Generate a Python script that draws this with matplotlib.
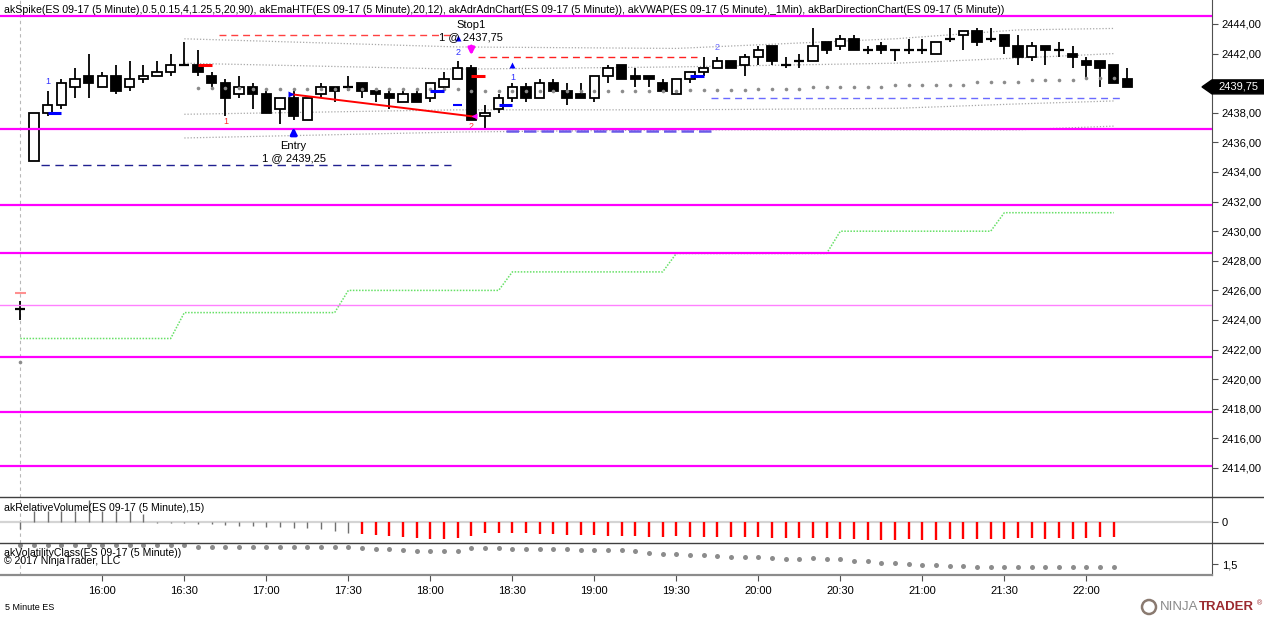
import matplotlib
matplotlib.use("Agg")
import matplotlib.pyplot as plt
import matplotlib.transforms as mtransforms
from matplotlib.patches import Polygon, Ellipse
from matplotlib.lines import Line2D
import numpy as np

plt.rcParams['font.family'] = ['Liberation Sans', 'DejaVu Sans']

# 5 minute ES bars: first one is 15:30 (session break), then 15:35 ... 22:15
opens = [2424.75,
         2434.75, 2438.0, 2438.5, 2439.75, 2440.5, 2439.75, 2440.5, 2439.75, 2440.25, 2440.5,
         2440.75, 2441.25, 2441.25, 2440.5, 2440.0, 2439.25, 2439.75, 2439.25, 2438.25, 2439.0,
         2437.5, 2439.25, 2439.75, 2439.75, 2440.0, 2439.5, 2439.25, 2438.75, 2439.25, 2439.0,
         2439.75, 2440.25, 2441.0, 2437.75, 2438.25, 2439.0, 2439.75, 2439.0, 2440.0, 2439.5,
         2439.25, 2439.0, 2440.5, 2441.25, 2440.5, 2440.5, 2440.0, 2439.25, 2440.25, 2440.75,
         2441.0, 2441.5, 2441.25, 2441.75, 2442.5, 2441.25, 2441.5, 2441.5, 2442.75, 2442.5,
         2443.0, 2442.25, 2442.5, 2442.25, 2442.25, 2442.25, 2442.0, 2443.0, 2443.25, 2443.5,
         2443.0, 2443.25, 2442.5, 2441.75, 2442.5, 2442.25, 2442.0, 2441.5, 2441.5, 2441.25,
         2440.25]
highs = [2425.25,
         2438.0, 2439.5, 2440.25, 2441.0, 2442.0, 2440.75, 2441.25, 2441.5, 2441.25, 2441.5,
         2442.0, 2442.75, 2442.25, 2440.75, 2440.25, 2440.5, 2440.0, 2439.5, 2439.0, 2439.5,
         2439.0, 2440.0, 2439.75, 2440.5, 2440.0, 2439.5, 2439.5, 2439.5, 2439.5, 2440.0,
         2440.75, 2441.5, 2441.25, 2438.5, 2439.25, 2440.0, 2440.0, 2440.25, 2440.25, 2440.0,
         2440.0, 2440.5, 2441.25, 2441.25, 2441.0, 2440.5, 2440.25, 2440.25, 2440.75, 2441.75,
         2441.75, 2441.5, 2442.0, 2442.5, 2442.5, 2441.75, 2442.0, 2443.75, 2442.75, 2443.25,
         2443.25, 2442.5, 2442.75, 2442.25, 2443.0, 2443.0, 2442.75, 2443.75, 2443.5, 2443.75,
         2443.75, 2443.25, 2443.25, 2442.75, 2442.5, 2442.75, 2442.5, 2441.75, 2441.5, 2441.25,
         2441.0]
lows = [2424.0,
        2434.75, 2437.75, 2438.25, 2439.0, 2439.0, 2439.75, 2439.25, 2439.5, 2440.0, 2440.5,
        2440.5, 2441.25, 2440.5, 2439.75, 2437.75, 2439.0, 2438.25, 2438.0, 2437.25, 2437.5,
        2437.5, 2439.0, 2438.75, 2439.5, 2439.0, 2438.75, 2438.25, 2438.75, 2438.75, 2438.75,
        2439.5, 2440.25, 2437.5, 2437.0, 2438.0, 2438.75, 2438.75, 2439.0, 2439.5, 2438.5,
        2439.0, 2438.75, 2440.0, 2440.25, 2439.75, 2439.75, 2439.5, 2439.25, 2440.0, 2440.5,
        2441.0, 2441.0, 2440.5, 2441.25, 2441.25, 2441.0, 2441.0, 2441.5, 2442.0, 2442.25,
        2442.25, 2442.0, 2442.0, 2441.5, 2442.0, 2442.0, 2442.0, 2442.75, 2442.25, 2442.5,
        2442.75, 2442.0, 2441.25, 2441.5, 2441.25, 2441.75, 2441.0, 2440.25, 2439.75, 2440.0,
        2439.75]
closes = [2424.75,
          2438.0, 2438.5, 2440.0, 2440.25, 2440.0, 2440.5, 2439.5, 2440.25, 2440.5, 2440.75,
          2441.25, 2441.25, 2440.75, 2440.0, 2439.0, 2439.75, 2439.25, 2438.0, 2439.0, 2437.75,
          2439.0, 2439.75, 2439.5, 2439.75, 2439.5, 2439.25, 2439.0, 2439.25, 2438.75, 2440.0,
          2440.25, 2441.0, 2437.5, 2438.0, 2439.0, 2439.75, 2439.0, 2440.0, 2439.5, 2439.0,
          2439.0, 2440.5, 2441.0, 2440.25, 2440.25, 2440.25, 2439.5, 2440.25, 2440.75, 2441.0,
          2441.5, 2441.0, 2441.75, 2442.25, 2441.5, 2441.25, 2441.5, 2442.5, 2442.25, 2443.0,
          2442.25, 2442.25, 2442.25, 2442.25, 2442.25, 2442.25, 2442.75, 2443.0, 2443.5, 2442.75,
          2443.0, 2442.5, 2441.75, 2442.5, 2442.25, 2442.25, 2441.75, 2441.25, 2441.0, 2440.0,
          2439.75]

# hourly EMA (akEmaHTF), bars 15:30 ... 22:10
ema_htf = [2422.75] * 12 + [2424.5] * 12 + [2426.0] * 12 + [2427.25] * 12 + \
          [2428.5] * 12 + [2430.0] * 12 + [2431.25] * 9

# VWAP dots from 16:35 (bar 12) to 22:10 (bar 79)
vwap = [2439.7, 2439.7, 2439.7, 2439.7,
        2439.6, 2439.6, 2439.6, 2439.6, 2439.6, 2439.6, 2439.6, 2439.6,
        2439.6, 2439.6, 2439.6, 2439.6, 2439.6, 2439.6, 2439.6, 2439.6,
        2439.45, 2439.45, 2439.45, 2439.45, 2439.45, 2439.45, 2439.45, 2439.45,
        2439.45, 2439.45, 2439.45, 2439.45, 2439.45, 2439.45, 2439.45, 2439.45,
        2439.55, 2439.55, 2439.55, 2439.55, 2439.55,
        2439.6, 2439.6, 2439.6, 2439.6,
        2439.75, 2439.75, 2439.75, 2439.75, 2439.75, 2439.75,
        2439.85, 2439.85, 2439.85, 2439.85, 2439.85, 2439.85,
        2440.05, 2440.05, 2440.05, 2440.05,
        2440.2, 2440.2, 2440.2, 2440.2,
        2440.35, 2440.35, 2440.35]
vwap_prev = 2421.15

# VWAP bands, read at a few bars
band_bars = [11, 31, 47, 63, 72, 79]
band_up2 = [2443.0, 2442.45, 2442.35, 2443.0, 2443.6, 2443.7]
band_up1 = [2441.35, 2440.95, 2441.1, 2441.35, 2441.7, 2442.0]
band_dn1 = [2437.9, 2438.2, 2438.2, 2438.3, 2438.6, 2438.8]
band_dn2 = [2436.3, 2436.7, 2436.85, 2436.85, 2436.85, 2437.1]

# magenta levels (akAdrAdnChart)
adr_levels = [2444.55, 2436.9, 2431.75, 2428.5, 2425.0, 2421.5, 2417.75, 2414.15]

# relative volume, bars 15:30 ... 22:10
rel_vol = [-0.35,
           0.55, 0.55, 0.55, 0.55, 1.1, 0.55, 0.55, 0.55, 0.4,
           -0.03, -0.05, -0.05, -0.08, -0.11, -0.16, -0.18, -0.21, -0.23, -0.26, -0.29, -0.31,
           -0.37, -0.47, -0.53,
           -0.62, -0.66, -0.70, -0.74, -0.80, -0.86, -0.83, -0.79, -0.70, -0.57, -0.53, -0.53,
           -0.57, -0.60, -0.62, -0.63, -0.66, -0.66, -0.70, -0.70, -0.70,
           -0.73, -0.73, -0.69, -0.74, -0.74, -0.74, -0.77, -0.77, -0.77, -0.81, -0.82, -0.81,
           -0.81, -0.82, -0.85, -0.85, -0.89, -0.90, -0.89, -0.85, -0.89, -0.90, -0.87, -0.85,
           -0.85, -0.87, -0.85, -0.82, -0.82, -0.85, -0.82, -0.85, -0.82, -0.77, -0.77]

# volatility class, bars 15:30 ... 22:10
vol_class = [2.43,
             2.43, 2.43, 2.43, 2.43, 2.43, 2.46, 2.46, 2.43, 2.43, 2.43, 2.43, 2.45,
             2.36, 2.36, 2.35, 2.35, 2.35, 2.35, 2.36, 2.36, 2.35, 2.35, 2.35, 2.33,
             2.30, 2.25, 2.23, 2.20, 2.15, 2.15, 2.15, 2.13,
             2.30, 2.28, 2.28, 2.25, 2.25, 2.25, 2.23, 2.23, 2.20, 2.20, 2.18, 2.18, 2.15,
             2.07, 2.02, 2.02, 1.96, 1.96, 1.91, 1.83, 1.83, 1.83, 1.78, 1.76, 1.76, 1.78,
             1.73, 1.73, 1.67, 1.63, 1.55, 1.55, 1.50, 1.47, 1.44, 1.39, 1.39, 1.36, 1.36,
             1.33, 1.36, 1.36, 1.36, 1.33, 1.33, 1.33, 1.33, 1.33]

time_labels = ["16:00", "16:30", "17:00", "17:30", "18:00", "18:30", "19:00",
               "19:30", "20:00", "20:30", "21:00", "21:30", "22:00"]
time_bars = [5, 11, 17, 23, 29, 35, 41, 47, 53, 59, 65, 71, 77]

entry_bar, entry_price = 19, 2439.25
exit_bar, exit_price = 32, 2437.75

header = ("akSpike(ES 09-17 (5 Minute),0.5,0.15,4,1.25,5,20,90), akEmaHTF(ES 09-17 (5 Minute),20,12), "
          "akAdrAdnChart(ES 09-17 (5 Minute)), akVWAP(ES 09-17 (5 Minute),_1Min), "
          "akBarDirectionChart(ES 09-17 (5 Minute))")

opens = np.array(opens)
highs = np.array(highs)
lows = np.array(lows)
closes = np.array(closes)
idx = np.arange(len(opens)) - 1

W, H = 1264, 617
fig = plt.figure(figsize=(W / 100, H / 100), dpi=100)


def px_rect(x0, y0, x1, y1):
    return [x0 / W, 1 - y1 / H, (x1 - x0) / W, (y1 - y0) / H]


ax = fig.add_axes(px_rect(0, 0, 1212, 497))
ax_rv = fig.add_axes(px_rect(0, 497, 1212, 543), sharex=ax)
ax_vc = fig.add_axes(px_rect(0, 543, 1212, 575), sharex=ax)

bar_px = 82 / 6
ax.set_xlim(-34 / bar_px, (1212 - 34) / bar_px)
ax.set_ylim(2414 - 29 / 14.8, 2414 + 468 / 14.8)
ax_rv.set_ylim(-1.05, 1.25)
ax_vc.set_ylim(0.95, 2.55)

for a in (ax, ax_rv, ax_vc):
    for s in ("top", "left", "bottom"):
        a.spines[s].set_visible(False)
    a.spines["right"].set_color("#505050")
    a.yaxis.tick_right()
    a.tick_params(axis="y", length=4, color="#505050", labelsize=8, pad=3)
    a.tick_params(axis="x", length=0)
    a.axvline(-1, color="#b8b8b8", lw=0.8, ls=(0, (3, 3)), zorder=0)
ax_vc.spines["bottom"].set_visible(True)
ax_vc.spines["bottom"].set_color("#8c8c8c")
ax_vc.spines["bottom"].set_linewidth(1.6)
plt.setp(ax.get_xticklabels(), visible=False)
plt.setp(ax_rv.get_xticklabels(), visible=False)

# price axis ticks (2440 is hidden behind the last price tag)
pticks = [p for p in range(2414, 2445, 2) if p != 2440]
ax.set_yticks(pticks)
ax.set_yticklabels([f"{p:.2f}".replace(".", ",") for p in pticks])

# magenta levels
for lv in adr_levels:
    if lv == 2425.0:
        ax.axhline(lv, color="#ff80ff", lw=1.0, zorder=6)
    else:
        ax.axhline(lv, color="#ff00ff", lw=1.6, zorder=6)

# VWAP bands
for b in (band_up2, band_up1, band_dn1, band_dn2):
    ax.plot(band_bars, b, color="#a8a8a8", lw=0.9, ls=(0, (1, 1.5)), zorder=1)

# hourly ema
ax.plot(idx[:len(ema_htf)], ema_htf, color="#66e066", lw=1.1, ls=(0, (1, 1)), zorder=2)

# dashed levels
ax.hlines(2434.5, 0.5, 30.5, color="#202090", lw=1.0, ls=(0, (6, 4)), zorder=2)
ax.hlines(2443.25, 13.5, 30.5, color="#ff4040", lw=1.0, ls=(0, (5, 3.5)), zorder=2)
ax.hlines(2441.75, 32.5, 48.5, color="#ff2020", lw=1.0, ls=(0, (5, 3.5)), zorder=2)
ax.hlines(2439.0, 49.5, 79.5, color="#6a6aff", lw=1.0, ls=(0, (5, 3.5)), zorder=2)
ax.hlines(2436.8, 34.5, 49.5, color="#6a5ae8", lw=1.8, ls=(0, (5, 2)), zorder=5)

# candles
body_lo = np.minimum(opens, closes)
body_h = np.abs(closes - opens)
up = closes > opens
has_body = body_h > 0
ax.vlines(idx, lows, highs, color="black", lw=1.3, zorder=3)
ax.bar(idx[has_body], body_h[has_body], bottom=body_lo[has_body], width=0.68,
       color=np.where(up, "white", "black")[has_body], edgecolor="black", linewidth=1.3, zorder=4)
ax.hlines(opens[~has_body], idx[~has_body] - 0.36, idx[~has_body] + 0.36, color="black", lw=1.6, zorder=4)

# vwap dots
ax.plot(np.arange(12, 12 + len(vwap)), vwap, "o", color="#8c8c8c", ms=2.6, mec="none", zorder=7)
ax.plot([-1], [vwap_prev], "o", color="#8c8c8c", ms=2.6, mec="none", zorder=7)
ax.hlines(2425.8, -1.4, -0.6, color="#ff9090", lw=1.5, zorder=7)

# spike markers
ax.hlines([2438.0, 2439.5, 2438.5, 2440.5], [1, 29, 34, 48], [2, 30, 35, 49], color="#0000ff", lw=2.2, zorder=7)
ax.hlines(2438.5, 30.65, 31.35, color="#0000ff", lw=1.5, zorder=7)
ax.hlines([2441.25, 2440.5], [12, 32], [13, 33], color="#ff0000", lw=2.2, zorder=7)
ax.plot([31, 35], [2443.05, 2441.25], "^", color="#0000ff", ms=5, mec="none", zorder=7)
ax.text(1, 2440.1, "1", color="#3030ff", fontsize=6.5, ha="center", va="center", zorder=8)
ax.text(14, 2437.4, "1", color="#ff3030", fontsize=6.5, ha="center", va="center", zorder=8)
ax.text(31, 2442.1, "2", color="#3030ff", fontsize=6.5, ha="center", va="center", zorder=8)
ax.text(32, 2437.05, "2", color="#ff3030", fontsize=6.5, ha="center", va="center", zorder=5)
ax.text(35, 2440.4, "1", color="#3030ff", fontsize=6.5, ha="center", va="center", zorder=8)
ax.text(50, 2442.4, "2", color="#6a6aff", fontsize=6.5, ha="center", va="center", zorder=8)

# trade
ax.plot([entry_bar - 0.15, exit_bar + 0.15], [entry_price, exit_price], color="#ff0000", lw=1.4, zorder=6)
ax.plot([entry_bar - 0.2], [entry_price], ">", color="#0000ff", ms=5, mec="none", zorder=8)
ax.plot([exit_bar + 0.2], [exit_price], "<", color="#ff00ff", ms=5, mec="none", zorder=8)
ax.annotate("", xy=(entry_bar, 2437.2), xytext=(entry_bar, 2436.35),
            arrowprops=dict(arrowstyle="-|>", color="#0000ff", lw=2.2, mutation_scale=9), zorder=8)
ax.annotate("", xy=(exit_bar, 2441.7), xytext=(exit_bar, 2442.7),
            arrowprops=dict(arrowstyle="-|>", color="#ff00ff", lw=2.2, mutation_scale=9), zorder=8)
ax.text(entry_bar, 2435.75, "Entry", fontsize=8, ha="center", va="center", zorder=8)
ax.text(entry_bar, 2434.95, "1 @ " + f"{entry_price:.2f}".replace(".", ","), fontsize=8,
        ha="center", va="center", zorder=8)
ax.text(exit_bar, 2443.93, "Stop1", fontsize=8, ha="center", va="center", zorder=8)
ax.text(exit_bar, 2443.12, "1 @ " + f"{exit_price:.2f}".replace(".", ","), fontsize=8,
        ha="center", va="center", zorder=8)

# last price marker
trans = mtransforms.blended_transform_factory(fig.transFigure, ax.transData)
last = closes[-1]
dy = 7 / 14.8
tag = Polygon([(1202 / W, last), (1212 / W, last + dy), (1264 / W, last + dy),
               (1264 / W, last - dy), (1212 / W, last - dy)], closed=True,
              facecolor="black", edgecolor="black", transform=trans, clip_on=False, zorder=10)
fig.add_artist(tag)
fig.text(1218 / W, last, f"{last:.2f}".replace(".", ","), transform=trans, color="white",
         fontsize=8, va="center", ha="left", zorder=11)

# relative volume
rv_x = idx[:len(rel_vol)]
rel_vol = np.array(rel_vol)
ax_rv.axhline(0, color="#d4d4d4", lw=1.6, zorder=0)
grey = rv_x < 24
ax_rv.vlines(rv_x[grey], 0, rel_vol[grey], color="#707070", lw=1.0, zorder=2)
ax_rv.vlines(rv_x[~grey], 0, rel_vol[~grey], color="#ff0000", lw=1.7, zorder=2)
ax_rv.set_yticks([0])
ax_rv.set_yticklabels(["0"])

# volatility class
ax_vc.plot(idx[:len(vol_class)], vol_class, "o", color="#8c8c8c", ms=3.6, mec="none", zorder=2)
ax_vc.set_yticks([1.5])
ax_vc.set_yticklabels(["1,5"])
ax_vc.set_xticks(time_bars)
ax_vc.set_xticklabels(time_labels)
ax_vc.tick_params(axis="x", length=4, color="#505050", labelsize=8, pad=4, direction="out")

# panel separators
for yy in (497, 543):
    fig.add_artist(Line2D([0, 1], [1 - yy / H, 1 - yy / H], color="#404040", lw=1.0,
                          transform=fig.transFigure))

# texts
fig.text(4 / W, 1 - 10 / H, header, fontsize=7.6, va="center", ha="left")
fig.text(4 / W, 1 - 508 / H, "akRelativeVolume(ES 09-17 (5 Minute),15)", fontsize=7.6, va="center")
fig.text(4 / W, 1 - 553 / H, "akVolatilityClass(ES 09-17 (5 Minute))", fontsize=7.6, va="center")
fig.text(4 / W, 1 - 561 / H, "\u00a9 2017 NinjaTrader, LLC", fontsize=7.6, va="center")
fig.text(5 / W, 1 - 607 / H, "5 Minute ES", fontsize=6.5, va="center")

# NinjaTrader logo
fig.add_artist(Ellipse((1149 / W, 1 - 607 / H), 14 / W, 14 / H, fill=False, edgecolor="#8a7a70",
                       lw=1.8, transform=fig.transFigure))
fig.text(1160 / W, 1 - 607 / H, "NINJA", fontsize=9.5, color="#8a8a8a", va="center")
fig.text(1199 / W, 1 - 607 / H, "TRADER", fontsize=9.5, color="#9b2a2f", va="center", fontweight="bold")
fig.text(1257 / W, 1 - 604 / H, "\u00ae", fontsize=5, color="#9b2a2f", va="center")

fig.savefig("out.png", dpi=100)
